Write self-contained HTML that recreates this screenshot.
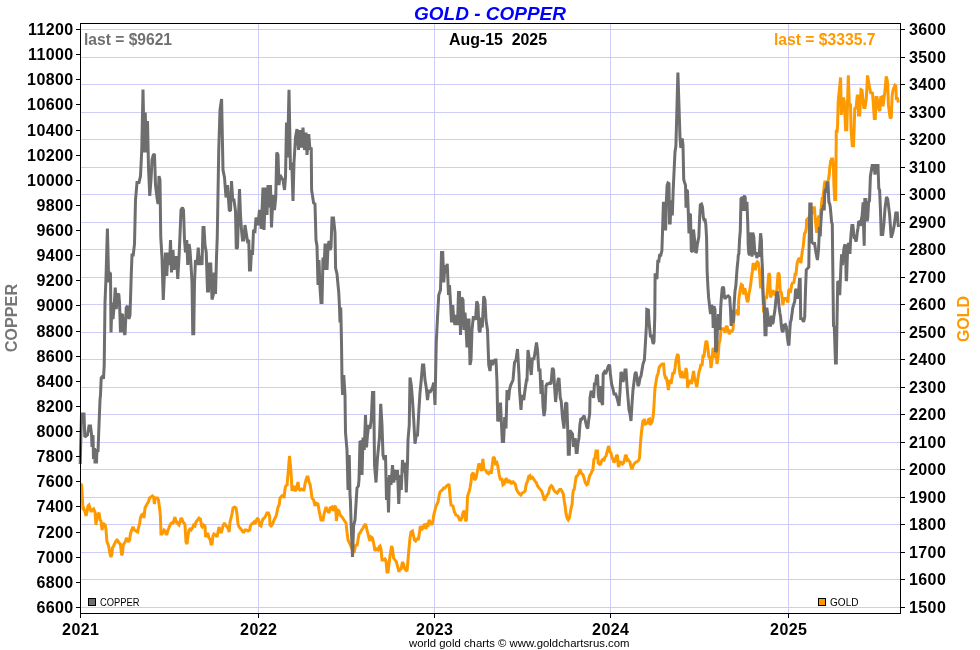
<!DOCTYPE html>
<html><head><meta charset="utf-8"><title>GOLD - COPPER</title>
<style>html,body{margin:0;padding:0;background:#fff;width:980px;height:650px;overflow:hidden}</style>
</head><body>
<svg width="980" height="650" viewBox="0 0 980 650" style="display:block">
<rect width="980" height="650" fill="#fff"/>
<path d="M81,29.5H900M81,57.5H900M81,84.5H900M81,112.5H900M81,139.5H900M81,167.5H900M81,194.5H900M81,222.5H900M81,249.5H900M81,277.5H900M81,304.5H900M81,332.5H900M81,359.5H900M81,387.5H900M81,414.5H900M81,442.5H900M81,469.5H900M81,497.5H900M81,524.5H900M81,552.5H900M81,579.5H900M81,607.5H900M258.5,24V613M434.5,24V613M610.5,24V613M788.5,24V613" stroke="#cdcdf8" stroke-width="1" fill="none"/>
<polyline points="80.4,484 81.6,485 82.4,498 83,510 84,509 85,512 86,516 87,512 88,506 89,505 90,508 91,512 92.4,510 93.6,509 95,512 96,525 97,516 98,514 99.2,513 100,520 101,521 102,530 103,526 104,524 105.2,525 106,530 107,542 108,544 109,548 110,554 111,557 112,554 112.4,548 113.6,546 115,543 116,541 117,540 118,541 119,543 120.4,544 121.6,555 122.4,554 123.2,545 124.4,543 125.6,541 126.4,538 127.6,540 128.4,542 129.6,540 130.4,534 131.6,530 133,527 134.4,530 136,531 137.6,532 138.4,528 139.6,524 140.4,518 141.6,515 143,514 144,518 145,508 146,506 147,504 148.4,502 149.6,498 151,497 152.4,496 153.6,497 154.4,504 155,499 156,498 157.6,498 158.4,500 159.6,508 160.4,516 161,534 162,534 163,532 164,530 165,531 166,534 167,534 168,530 169,528 170,525 171.6,523 173,523 174,520 175,517 176,522 177,522 178,524 179,525 180,522 181,518 182,519 183,522 184,523 185,525 186,542 187,544 188,536 189,530 190,529 191,530 192.4,528 193.6,525 195,526 196,522 197.6,520 199,518 200.4,519 201.6,526 202.4,527 203.6,525 205,526 205.6,537 207,534 208,534 209,538 210,539 211,544 212,544 213,536 214,534 215.6,535 217,537 218,532 219,527 220,530 221,533 222,530 223,526 224.4,523 225.6,525 227,527 228.4,529 229.2,532 230,522 231,518 232,514 233,508 234.4,507 236,508 237,514 238,524 239,527 240,528 241.6,530 243,532 244,532 245,530 246.4,530 248,531 249.6,530 250.4,526 251.6,524 253,523 254,522 255,524 256,521 257.6,518 258.6,520 259.6,525 261,526 262,522 263,519 264.4,518 265.6,516 267,513 268.4,513 269.6,516 270,525 271,526 272,525 273,523 274,520 275.6,517 276.4,515 277.6,509 278.4,506 279.2,505 280,498 281.6,496 283,495 284,498 285,489 286,485 287,486 288,474 289.5,456 291,472 292,491 293,487 294,486 295,491 296,490 297,486 298,482 299,489 300,490 301.6,489 303,490 304,490 305,484 306,480 307,477 308,477 309,482 310,484 311,490 312,498 313.6,500 315,506 316,503 318,504 319,510 321,520 323,520 324,514 326,507 327,510 329,513 330,508 332,507 333,511 334.4,507 335.6,506 336.4,521 337.6,510 339,511 340,515 342,517 344,520 346,523 347,532 348,540 350,544 351.6,548 353,550 354,553 355,548 356,544 357,546 358,540 359,534 360,533 361.6,530 363,528 364,526 365.6,524 367,530 368,534 369,538 370,541 371,537 372.4,538 373.6,543 375,551 376.4,549 378,550 379,547 380,546 381,549 382,560 383.6,560 385,559 386,561 387,572 388,572 389,564 390,556 391.6,546 392.4,548 393.6,558 395,560 396.4,562 398,568 399,572 400,568 401,570 402.4,562 403.6,564 404.4,568 405.6,570 407,571 408,560 409,548 410,538 411,532 412.4,531 413.6,536 414.4,540 415.6,541 417,539 418.4,539 419.6,532 420.4,526 421.6,530 423,528 424,525 425,524 426,529 427,523 428,527 429,520 430,522 431,523 432,525 433,520 434,514 435,510 436,506 438,502 439,496 440,492 441,491 442.4,490 443.6,488 445,488 446.4,486 448,485 449,484 450,496 451,505 453,506 454.4,512 456,515 458,516 459.6,520 461,520 462,517 463.6,511 464.4,512 465.6,521 466.4,520 467.6,496 469,492 470,488 471,482 471.8,474.6 473.3,472.8 474.6,480 475.9,478.3 477.4,471 478.9,463.6 480.2,465.4 481.4,471 482.9,459 483.9,469.1 485.7,470 487,472.8 488.5,473.7 490,471 491.2,473.7 492.2,465.4 493.3,457 494.4,458 495.5,463.6 496.8,462.6 497.7,465.4 499.2,474.6 500.5,480.2 501.8,478.3 502.9,484.8 504.2,483.9 505.1,480.2 506.6,478.3 507.9,483 509.1,480.2 510.3,482 511.5,483.9 512.8,481.1 514,483 515.2,483.9 516.5,489.4 518,492.2 519.5,494 520.8,495 522.1,493.1 523.6,492.2 525,491.3 526.3,483.9 527.6,481.1 528.7,476.5 530,475.6 531,478.3 532.4,477.4 533.7,479.2 535,481.1 536.5,483 537.4,485.7 538.7,487.6 540.2,489.4 541.7,491.3 543,495 544.4,500.5 545.7,497.7 547.2,495 548.5,493.1 549.8,487.6 551.3,485.7 552.4,486.6 553.5,489.4 554.6,491.3 555.9,492.2 557.2,493.1 558.3,491.3 559.6,489.4 560.9,489.4 562,491.3 563.3,494 564.2,500.5 565.1,506 566,513.4 567,518 568.2,519.9 569.4,518 570.1,513.4 571.2,507.9 572.1,504.2 572.7,494.9 573.4,490.3 574.3,489.4 575.3,482 576.2,476.5 577.5,475.6 578.6,473.7 579.9,469.1 580.8,471.9 581.7,473.7 583,474.6 584.1,478.3 585.4,482.9 586.7,484.8 587.8,483.9 588.6,480.2 589.7,475.6 591,473.7 591.9,471 592.8,470 594,459 595,458 596,451 597.5,451 598.2,463 599.5,464 600.5,465 601.5,461 602.5,459.5 604,460 605,457 606,456 607,452 608.5,446 609.5,449 610,452 611,453 611.8,457 612.8,459 614,462.5 615,461 616.5,455 617.5,456 618,463 618.5,467 619.2,465 620,462 621.2,462.5 622.5,464 623.5,463 624.5,460 625.5,455 626.5,456 627.2,460 628,459.5 629,461 630,462 631,467 632,469 633,466 634,464 635,463 636,462 637.5,461.5 638.5,460.5 639.5,458 640,450 640.5,443 641,437 641.5,432 642,428 642.5,424 643,421 644,420 644.5,420 645.5,424 646.5,423.5 647.5,423 648.5,419.5 649.5,419 650,425 651,423.5 652,422 652.8,418 653.5,413 654,405 654.6,394 655,388 656,382 657,376 658,374 659,368 660,366 661,365 662.4,364 663.6,364 664.4,374 665.6,378 666.4,378 667.6,384 668.4,390 669.2,382 670,380 671,384 672,378 673,372 674,374 675,368 676,360 677.6,354 678.4,356 679.4,370 680,374 681,378 682,371 683,378 684,376 685,378 686,368 687,374 687.6,388 688.4,384 689.6,382 690.4,380 691.6,384 692.4,378 693.6,371 694.4,378 695.6,382 696.8,387 698,378 699,372 700,369 701,364 702,366 703,356 704,356 705,348 706,341 707,342 708,350 709,358 710,356 711,368 712,360 713,348 714,350 715,358 716,352 717,364 718,358 719,344 720,340 721,330 722,328 723,330 724,328 725,333 726,327 727,326 728,330 729,334 730,333 731,330 732,332 733,329 733.5,323 734.2,315.5 735.3,312.4 736.2,313.9 737.2,309.4 738.3,315.5 738.7,300.4 739.5,294.4 740.3,288.3 741.3,284.5 742.5,285.3 743.3,294.4 744,289.8 744.8,288.3 745.5,291.3 746.3,295.9 747.3,301.9 748.2,300.4 748.8,294.4 749.8,289.8 750.8,283.8 751.6,276.3 752.3,271.7 753.1,264.2 754.3,264.2 755.3,270.2 756.1,264.2 757.3,261.9 758.3,262.7 759.1,267.2 759.9,276.3 760.6,288.3 761.4,280.8 762.1,282.3 762.9,292.8 763.6,312.4 764.4,306.4 765.1,297.4 765.9,297.4 766.6,297.4 767.4,291.3 768.1,282.3 768.9,273.2 769.7,274.8 770.4,297.4 771.2,295.9 772.4,291.3 773.4,291.3 774.2,292.8 775.4,295.8 776.8,290.4 778.1,272.8 779.2,274.2 780.2,290.4 781.5,293.1 782.9,305.3 783.5,301.2 784.6,298.5 785.6,298.5 786.9,299.9 787.9,302.6 788.7,290.4 789.6,289 790.3,293.1 791.7,285 792.7,282.3 793.7,283.6 794.4,279.6 795,274.2 796,274.2 797.1,263.3 798.4,259.3 799.1,258.6 800.1,259.3 800.9,263.3 801.8,255.2 802.5,249.8 803.2,247.1 803.8,240.3 804.5,233.5 805.5,232.2 806.3,228.1 806.6,219.9 807.9,218.5 809.3,217 810.6,214 812,213.1 813.1,207.7 814.4,207.7 815.4,221.2 816.7,232.9 817.4,228.1 818.1,218.5 819,215.8 820.1,217.2 821.2,207.7 822.1,198.2 823.1,196.9 824.2,186 824.8,182 825.8,182 826.6,188.7 827.5,183.3 828.5,179.3 829.3,173.8 829.8,167.1 830.7,161 831.6,159 832.6,159 833.4,167.1 833.9,184.7 834.7,199.6 835.7,199.6 836.3,129.7 837,133 837.6,125 838.2,101.3 840.6,77.5 841.3,114.9 842.5,98.8 843.7,98.8 844.3,101.3 845.6,129.7 846.8,129.7 848.3,75.4 849.3,105 850.5,105 851.1,129.7 852.3,145.7 853.5,145.7 854.2,127 854.8,107.5 856,109 857.3,95 858.1,96.3 858.5,114.9 859.7,114.9 861,89.6 862,90.1 863.8,107.4 865,107.4 866.3,98.8 867.5,75.4 869.6,87.7 870.6,92.6 872.5,93.2 873.3,103.7 874.3,118.4 875.3,118.4 876.1,97.5 877,97.5 878,103.7 879,109.8 879.8,111 880.7,97.5 881.7,97 882.3,104.9 883.2,104.9 883.9,98.8 884.8,92.6 886.2,76.5 887.2,80 887.8,86.5 888.4,104.9 889.3,112.3 890.3,118.4 891.3,117.2 892.1,96.3 893,90.1 894,87.7 895,85.2 895.8,85.8 896.4,100 897.4,97.5 898.3,102.4" fill="none" stroke="#ff9900" stroke-width="3" stroke-linejoin="miter" stroke-miterlimit="2" stroke-linecap="butt"/>
<polyline points="80.2,464 80.8,440 81.5,414 84,414 84.8,437 87.5,435 89,426 90.5,426 91.5,434 92,447 93,435 93.5,459 94.5,448 95,462 96.5,462 97,449 98,452 99,425 100,400 100.5,395 101.2,378 102.8,376 103.5,379 104.2,365 105,302.5 106,277.5 107.4,228.5 108.75,282.5 109.5,272.5 110.5,273.75 111,332.5 112,302.5 113,319 114.25,305 115.25,287.5 116.25,309 117.5,295 118.75,293.75 119.5,302.5 120.5,332.5 121.5,315 122.5,314 123.5,331 125,335 126.25,307.5 127.5,306 129,319 130,315 131.25,275 132,255 133.25,255 134.5,244 135.5,200 137,182.5 139,182.5 140.5,176 141.75,150 143,89.5 144.25,152.5 145.25,112.5 146.25,152.5 147.5,121 148.5,167.5 149.75,196 151,180 152,160 153.5,154 154.5,155 155.5,185 157,197.5 158,204 159,176 160,180 160.75,237 162,257.5 163.25,300 164.25,277.5 165.5,252.5 166.75,276 168,252.5 169.5,265 170.5,240 171.5,272.5 173,250 174,270 175,257.5 176.5,257.5 177.75,279 179,257.5 180,235 181,210 182.5,207.5 183.5,210 184.5,240 185.5,252.5 186.75,240 187.75,265 189,244 190,250 191,265 192,282.5 192.75,333.75 193.75,333.75 194.5,282.5 195.5,260 197,265 198.25,247.5 199.5,265 201,256 202,265 203,227.5 204,227.5 205,245 206.25,252.5 207.5,291 208.5,291 209.5,264 210.75,264 212,299.5 213.25,295 214.25,272.5 215.5,294 216.5,257.5 217.25,237.5 218.75,150 220,110 221.6,99 223,170 224.5,177.5 226,197.5 227.5,185 229.25,210 230.5,211 231.5,181 232.75,200 234,200 235.5,211 236.25,248.75 237.5,247.5 238.25,222.5 239.5,189 240.5,215 241.5,230 242.5,240 243.75,240 245,225 246.5,235 247.5,241 248.75,240 249.5,270 250.5,270 251.5,250 252.5,255 253.5,230 255,231 256,217.5 258,225 259.5,210 261.25,228.75 263,187.5 264,230 265.5,187.5 267,215 268,185 269.25,207.5 270.5,185 271.5,227.5 273,195 274.5,210 275.75,197.5 276.75,152.5 278,155 279,185 280,175 281.5,177.5 283,180 284.5,190 285.5,177.5 286.5,122.5 287.5,157.5 289,89.8 290.5,170 291.75,162.5 293,201 294,162.5 295.5,137.5 297,129 298.5,150 300,130 301.5,147.5 303,127.5 304.5,150 306,132.5 307,155 308.75,134 310,150 311.25,147.5 311.6,190 313.6,203 315,204 316,240 317,246 318,285 319,260 320,288 321,302.5 322,302.5 323,257.5 324,270 325,245 326,245 327,270 328,247.5 329,241 330,250 331,247.5 332,218 333.5,218 335,232.5 335.6,268 337,274 338.75,292.5 339.5,307.5 340,322.5 340.75,307.5 341.5,342.5 342,380 342.6,395 343.75,375 345,395 345.5,432.5 347,450 348,490 349.25,455 350,495 350.4,500 351.2,526 352.5,557 353.6,526 355,520 356,504 357,488 358.4,486 359,480 360,441 361.25,442.5 362,475 363,437.5 364.25,450 365.5,415 366.5,447.5 367.5,435 368.75,425 370,428.75 371.25,420 372.5,392.5 373.75,392.5 374.5,465 376,482.5 377.5,457.5 379.5,437.5 380.75,403.75 382,425 383,455 384.25,460 385.5,455 386.5,500 387.5,477.5 388.5,512.5 389.5,475 391,485 392.5,465 393.75,482.5 395,470 396.25,480 397.5,470 398.75,504 400,475 401.25,490 402.5,460 403.75,472.5 405,462.5 406.25,492.5 407.5,462.5 408,440 409.25,425 410,377.5 411.25,385 412.5,400 413.75,420 415,443.75 416.25,435 417.5,435 418.75,412.5 420,392.5 421.25,380 422.5,365 423.75,365 425,380 426.25,387.5 427.5,400 428.75,390 430,392.5 431.25,390 432.5,387.5 433.75,382.5 435,405 436.25,342.5 437.5,317.5 438.75,295 440.5,290 441.5,252.5 442.75,252.5 443.75,282.5 445,265 446,272.5 447.25,263.75 448.5,295 449.5,285 450.5,302.5 451.5,322.5 452.75,305 453.75,320 455,325 456.25,315 457.5,325 458.5,292.5 459.5,292.5 460.5,335 461.75,297.5 463,300 464,330 465,312.5 466,327.5 467,347.5 468,320 469,320 470,365 471,360 472,330 473.25,317.5 474.5,317.5 475.5,320 476.75,301.25 478,305 479,330 480,332.5 481.25,317.5 482.25,327.5 483.75,296.25 485,300 486,320 487.5,330 488.75,365 490,371 491.25,360 492.5,365 493.75,361 495,360 496,360 497,382 497.7,420 498.75,420 499.5,421 500.5,402.5 501.5,425 502.3,441.4 503.6,441.4 504.7,417 506,428.5 507,390 508.5,400 509.5,390 510.75,385 512,382.5 513,380 514.5,362.5 516,360 517.5,349 519,375 519.5,390 521,410 522,395 523.75,400 525,390 526.5,380 527,380 528,350 529.5,360 531.25,375 532.5,357.5 533.75,360 535,352.5 536.5,342.5 537.5,350 538.75,370 540,370 541,394 542,380 543,406 544,416 545,410 546,386 547,384 548,384 549.6,383 551,384 552.4,368 553.6,370 554.4,384 555.6,402 556.8,390 558,380 559,378 560.3,398 561.2,401 562.5,417.5 564,428.6 565.5,403.7 566.8,402.7 567.7,428.6 568.3,454.3 569.3,454.3 570,430.3 571.2,432.2 572.5,434 573.4,447 574.3,439.5 575.3,439.5 576.2,452.5 577.1,452.5 578,443.2 579,437.7 579.9,424.8 580.8,419.2 581.7,419.2 583,417.4 584.1,415.5 585.4,421 586.7,426.6 587.8,428.5 588.6,421 589.7,413.7 590,398 591,392 592.4,392 593.6,398 594.4,384 595.6,384 596.6,375 597.6,376 598.4,396 599.6,402 600.6,386 601.6,402 602.6,405 603.2,374 604.4,372 605.6,374 607,370 608.4,366 609.6,365 610.4,374 611.6,384 613,389 614,394 615.6,394 617,398 618,402 619,406 620,392 621,372 622,374 623,382 624,378 625,370 626,370 627,386 628,398 629,410 630,414 631,421 632,404 633,390 634,382 635,374 636,372 637,378 638,386 639,384 640,378 641,376 642,370 643,364 644.4,360 645,350 645.6,340 646.4,326 646.8,309.4 648.4,310 649,321.5 650.4,336 651.4,336 652.4,340 653.2,344 654,342 654.8,316 655.1,274.8 656.3,274.8 656.9,279.3 657.8,261.2 658.8,261.2 659.6,255.2 660.8,255.2 661.9,250.6 662.6,229.5 663.4,203.3 664.9,203.3 665.6,230.5 666.4,200.3 667.1,185.2 667.9,183 669,183.7 669.5,223 670.2,223 670.9,200.3 671.7,213.9 672.4,213.9 673.2,189.8 673.9,174.7 675,152 675.9,146 677.9,72.6 680,137.3 680.8,148 682.2,138.4 683,145 683.7,179.2 684.5,182.2 685.5,185.2 686,207.8 686.7,189.8 687.5,191.3 688.2,209.4 689,233.5 689.8,213.9 690.5,215 691.3,250.6 692.5,252 693.5,229.5 694.6,240 695.8,252.9 696.5,252 697.3,244.6 698.8,237 699.6,218.4 700.3,204.8 701.5,204 702.5,207 703.3,216.9 704,220 705.1,219.9 705.8,224.4 706.6,238 707.1,270.2 707.8,285 708.6,297.4 709.3,303.4 710,310 710.6,314 711.6,305 712.6,308 713.2,328 714,306 715,310 715.6,352 716.6,350 717.4,330 718.4,314 719.4,324 720,330 720.7,307.9 721.4,297.4 722.2,288.3 722.9,286.8 723.7,288.3 724.4,297.4 725.2,298.9 726,297.4 727.1,296.6 728.2,295.9 729.7,297.4 730.5,310 731.2,326 732,310 733.2,323 734.2,303.4 735,291.3 735.9,285.3 736.5,276.3 737.2,267.2 738,259.7 738.3,255.2 738.9,253.6 739.5,240 740.3,230.5 741,198.8 742.2,197.3 743,210.9 743.7,197.3 744.5,195.8 745.2,197.3 745.5,210.9 746.3,203.3 747,203.3 747.8,224.4 748.2,244.6 748.8,253.6 749.8,255.2 750.4,232.5 751.3,240 752,256.7 752.8,232.5 753.8,237 754.6,249.1 755.3,255.2 756.1,252.1 756.8,258.2 757.6,252.1 758.3,255.2 759.1,256.7 759.9,244.6 760.6,233.3 761.4,240 761.8,256.7 762.4,267.2 763,290 763.6,304.9 764.1,302.2 765,334.7 766,334.7 766.8,307.6 767.8,314.4 768.7,326.6 769.5,317.1 770.5,326.6 771.4,315.7 772.2,323.8 773.2,322.5 773.8,317.1 774.9,310.3 775.9,300 776.8,292.7 777.9,292.7 779,306.2 779.9,313 780.6,317.1 781.3,325.2 782,330.6 783.1,332 784,325.2 785.4,324.5 786.3,326.6 787.4,337.4 788.3,344.2 789,344.2 789.8,330.6 790.4,322.5 791.2,319.8 792.1,313 792.8,307.6 793.9,304 794.8,301 795.5,290.4 796.2,289 796.8,295.8 797.8,298.5 798.7,290.4 799.5,279.6 800.2,279.6 800.7,318.4 801.6,318.4 802.6,319.8 803.6,321.8 804.7,317.1 805.5,290 806.3,269.8 807.5,268.5 808.8,267 809.5,220 809.8,204 811.1,204 811.8,242 813.2,243.5 814.6,243.5 816,253 817.4,260 818.5,250 819.5,227 820.2,236.5 820.9,222 821.8,210 822.4,209 822.8,210.4 823.5,205 824.2,210.4 824.8,192.8 825.5,188.7 826.2,192.8 826.9,183.3 828,182 828.5,194.2 828.9,202.3 829.6,203.6 830.2,206.3 831,215 831.6,222.3 832.3,224 832.7,259 833.5,325.8 834.3,327 835.5,363 836.3,363 837.7,281.4 838.5,282 839.1,293.7 839.8,293.7 841,264.7 841.6,254.3 842.5,265 843.8,249.8 844.5,245.7 845.1,244.4 845.8,260.6 846.2,281 846.6,279.6 847.2,260.6 847.8,247.1 848.5,243 849.2,244.4 849.9,253.8 850.6,240.3 851.2,232.2 851.9,225.4 852.9,225.4 853.7,233.5 854.2,237.6 855,237.6 856,241.7 856.6,239 857.3,232.2 858,228 858.7,221.2 859.6,222 860.4,226 861,221.4 862.1,215.8 863.1,202.3 863.7,230.8 864.2,245.7 864.8,199.6 865.9,199.6 866.4,217.2 867.2,221.2 867.8,217.2 868.6,202.3 869.5,200.9 870.4,176.2 872.2,165.4 873.9,165.4 875,174.6 876.2,165.4 878,165.4 878.8,188.5 879.6,190 880.4,208.5 881.2,234.6 882.7,234.6 883.9,223.8 885,208.5 886.5,197 887.7,199.2 889.6,214.6 891.2,237.7 892.7,233 894.2,225.4 895.8,213 897.3,213 898,223.8 898.6,227" fill="none" stroke="#6e6e6e" stroke-width="3" stroke-linejoin="miter" stroke-miterlimit="2" stroke-linecap="butt"/>
<path d="M80.5,23V618M80,613.5H901M900.5,23V614M80,23.5H901M76,29.5H80M76,54.5H80M76,79.5H80M76,104.5H80M76,130.5H80M76,155.5H80M76,180.5H80M76,205.5H80M76,230.5H80M76,255.5H80M76,280.5H80M76,305.5H80M76,331.5H80M76,356.5H80M76,381.5H80M76,406.5H80M76,431.5H80M76,456.5H80M76,481.5H80M76,506.5H80M76,532.5H80M76,557.5H80M76,582.5H80M76,607.5H80M901,29.5H905M901,57.5H905M901,84.5H905M901,112.5H905M901,139.5H905M901,167.5H905M901,194.5H905M901,222.5H905M901,249.5H905M901,277.5H905M901,304.5H905M901,332.5H905M901,359.5H905M901,387.5H905M901,414.5H905M901,442.5H905M901,469.5H905M901,497.5H905M901,524.5H905M901,552.5H905M901,579.5H905M901,607.5H905M258.5,614V618M434.5,614V618M610.5,614V618M788.5,614V618" stroke="#000" stroke-width="1" fill="none"/>
<g font-family="Liberation Sans, Arial, sans-serif" font-weight="bold" font-size="16" fill="#000" letter-spacing="0.4"><text x="73.6" y="35" text-anchor="end">11200</text><text x="73.6" y="60" text-anchor="end">11000</text><text x="73.6" y="85" text-anchor="end">10800</text><text x="73.6" y="110" text-anchor="end">10600</text><text x="73.6" y="136" text-anchor="end">10400</text><text x="73.6" y="161" text-anchor="end">10200</text><text x="73.6" y="186" text-anchor="end">10000</text><text x="73.6" y="211" text-anchor="end">9800</text><text x="73.6" y="236" text-anchor="end">9600</text><text x="73.6" y="261" text-anchor="end">9400</text><text x="73.6" y="286" text-anchor="end">9200</text><text x="73.6" y="311" text-anchor="end">9000</text><text x="73.6" y="337" text-anchor="end">8800</text><text x="73.6" y="362" text-anchor="end">8600</text><text x="73.6" y="387" text-anchor="end">8400</text><text x="73.6" y="412" text-anchor="end">8200</text><text x="73.6" y="437" text-anchor="end">8000</text><text x="73.6" y="462" text-anchor="end">7800</text><text x="73.6" y="487" text-anchor="end">7600</text><text x="73.6" y="512" text-anchor="end">7400</text><text x="73.6" y="538" text-anchor="end">7200</text><text x="73.6" y="563" text-anchor="end">7000</text><text x="73.6" y="588" text-anchor="end">6800</text><text x="73.6" y="613" text-anchor="end">6600</text><text x="909" y="35">3600</text><text x="909" y="63">3500</text><text x="909" y="90">3400</text><text x="909" y="118">3300</text><text x="909" y="145">3200</text><text x="909" y="173">3100</text><text x="909" y="200">3000</text><text x="909" y="228">2900</text><text x="909" y="255">2800</text><text x="909" y="283">2700</text><text x="909" y="310">2600</text><text x="909" y="338">2500</text><text x="909" y="365">2400</text><text x="909" y="393">2300</text><text x="909" y="420">2200</text><text x="909" y="448">2100</text><text x="909" y="475">2000</text><text x="909" y="503">1900</text><text x="909" y="530">1800</text><text x="909" y="558">1700</text><text x="909" y="585">1600</text><text x="909" y="613">1500</text><text x="80.7" y="635" text-anchor="middle">2021</text><text x="258.7" y="635" text-anchor="middle">2022</text><text x="434.7" y="635" text-anchor="middle">2023</text><text x="610.7" y="635" text-anchor="middle">2024</text><text x="788.7" y="635" text-anchor="middle">2025</text></g>
<text x="414" y="20" font-family="Liberation Sans, Arial, sans-serif" font-weight="bold" font-style="italic" font-size="18" fill="#0000ff" textLength="152" lengthAdjust="spacingAndGlyphs">GOLD - COPPER</text>
<text x="84" y="45" font-family="Liberation Sans, Arial, sans-serif" font-weight="bold" font-size="16" fill="#707070" textLength="88" lengthAdjust="spacingAndGlyphs">last = $9621</text>
<text x="449" y="45" font-family="Liberation Sans, Arial, sans-serif" font-weight="bold" font-size="16" fill="#000" xml:space="preserve" textLength="98" lengthAdjust="spacingAndGlyphs">Aug-15  2025</text>
<text x="774" y="45" font-family="Liberation Sans, Arial, sans-serif" font-weight="bold" font-size="16" fill="#ff9900" textLength="101.5" lengthAdjust="spacingAndGlyphs">last = $3335.7</text>
<text transform="translate(17.0,318.1) rotate(-90)" text-anchor="middle" font-family="Liberation Sans, Arial, sans-serif" font-weight="bold" font-size="16" fill="#777" textLength="68.5" lengthAdjust="spacingAndGlyphs">COPPER</text>
<text transform="translate(968.5,319) rotate(-90)" text-anchor="middle" font-family="Liberation Sans, Arial, sans-serif" font-weight="bold" font-size="16" fill="#ff9900">GOLD</text>
<rect x="88.5" y="598.5" width="7" height="7" fill="#707070" stroke="#000" stroke-width="1"/>
<text x="100" y="606" font-family="Liberation Sans, Arial, sans-serif" font-size="10" fill="#000" textLength="39.5" lengthAdjust="spacingAndGlyphs">COPPER</text>
<rect x="818.5" y="598.5" width="7" height="7" fill="#ff9900" stroke="#000" stroke-width="1"/>
<text x="830" y="606" font-family="Liberation Sans, Arial, sans-serif" font-size="10" fill="#000" textLength="28.5" lengthAdjust="spacingAndGlyphs">GOLD</text>
<text x="409" y="647" font-family="Liberation Sans, Arial, sans-serif" font-size="11.3" fill="#000" textLength="220.5" lengthAdjust="spacingAndGlyphs">world gold charts © www.goldchartsrus.com</text>
</svg>
</body></html>
